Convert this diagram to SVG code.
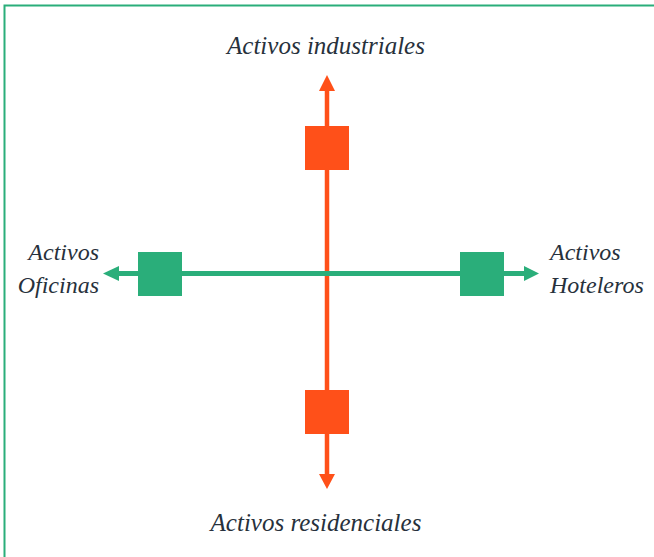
<svg xmlns="http://www.w3.org/2000/svg" width="654" height="557" viewBox="0 0 654 557">
<style>
text{font-family:'Liberation Serif','DejaVu Serif',serif;font-style:italic;font-size:24px;fill:#27313c}
.big{font-size:25px}
.g{fill:#2aae7a}
.o{fill:#ff5019}
.gl{stroke:#2aae7a;stroke-width:5;fill:none}
.ol{stroke:#ff5019;stroke-width:4.5;fill:none}
</style>
<rect x="0" y="0" width="654" height="557" fill="#ffffff"/>
<rect x="4.5" y="5.5" width="700" height="600" fill="none" stroke="#2aae7a" stroke-width="2"/>
<g id="connectors">
<line class="ol" x1="327" y1="90" x2="327" y2="475"/>
<polygon class="o" points="327,75 335,91 319,91"/>
<polygon class="o" points="327,489 335,474 319,474"/>
<line class="gl" x1="118" y1="273.5" x2="525" y2="273.5"/>
<polygon class="g" points="103,273.5 119,266 119,281"/>
<polygon class="g" points="539,273.5 524,266 524,281"/>
</g>
<g id="node-industriales">
<rect class="o" x="305" y="126" width="44" height="44"/>
<text class="big" x="326" y="54" text-anchor="middle">Activos industriales</text>
</g>
<g id="node-residenciales">
<rect class="o" x="305" y="390" width="44" height="44"/>
<text class="big" x="316" y="531" text-anchor="middle">Activos residenciales</text>
</g>
<g id="node-oficinas">
<rect class="g" x="138" y="252" width="44" height="44"/>
<text x="99" y="260" text-anchor="end">Activos</text>
<text x="99" y="293" text-anchor="end">Oficinas</text>
</g>
<g id="node-hoteleros">
<rect class="g" x="460" y="252" width="44" height="44"/>
<text x="550" y="260">Activos</text>
<text x="550" y="293">Hoteleros</text>
</g>
</svg>
